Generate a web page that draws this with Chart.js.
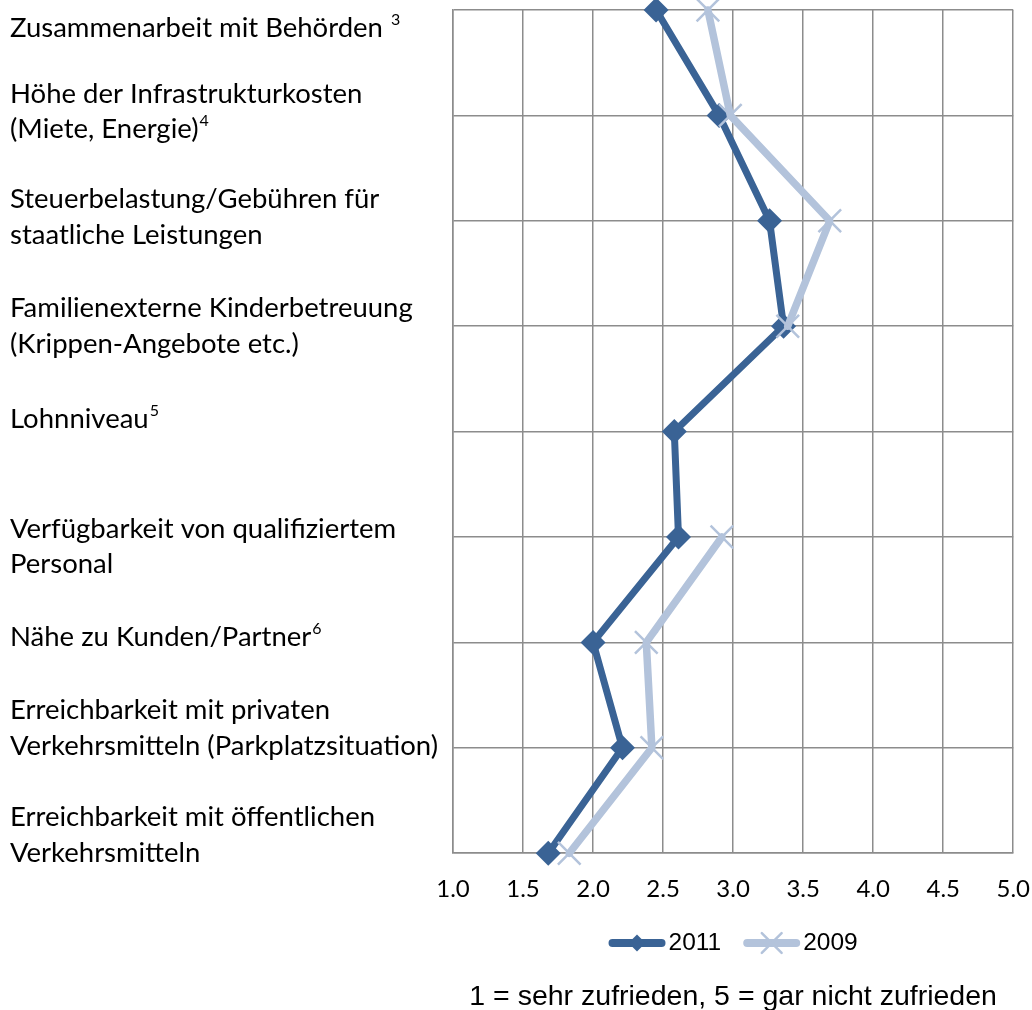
<!DOCTYPE html>
<html>
<head>
<meta charset="utf-8">
<script src="https://cdn.jsdelivr.net/npm/chart.js@4.4.1/dist/chart.umd.min.js"></script>
<style>
  html, body { margin: 0; padding: 0; background: #fff; }
</style>
</head>
<body>
<canvas id="chart" width="1032" height="1010"></canvas>
<script>
// Standortfaktoren, top to bottom
const categories = [
  ['Zusammenarbeit mit Behörden '],
  ['Höhe der Infrastrukturkosten', '(Miete, Energie)'],
  ['Steuerbelastung/Gebühren für', 'staatliche Leistungen'],
  ['Familienexterne Kinderbetreuung', '(Krippen-Angebote etc.)'],
  ['Lohnniveau'],
  ['Verfügbarkeit von qualifiziertem', 'Personal'],
  ['Nähe zu Kunden/Partner'],
  ['Erreichbarkeit mit privaten', 'Verkehrsmitteln (Parkplatzsituation)'],
  ['Erreichbarkeit mit öffentlichen', 'Verkehrsmitteln']
];
const footnotes = ['3', '4', '', '', '5', '', '6', '', ''];

const values2011 = [2.45, 2.90, 3.26, 3.36, 2.58, 2.61, 2.00, 2.21, 1.68];
const values2009 = [2.82, 2.98, 3.69, 3.39, null, 2.92, 2.38, 2.42, 1.83];
const seriesNames = ['2011', '2009'];

const scaleMin = 1;
const scaleMax = 5;
const scaleStep = 0.5;
const footerText = '1 = sehr zufrieden, 5 = gar nicht zufrieden';

const DARK = '#3a6395';
const LIGHT = '#b3c3db';
const GRID = '#8c8c8c';

// category text on the left, with raised footnote numbers
const sideLabels = {
  id: 'sideLabels',
  afterDraw(chart, args, opts) {
    const ctx = chart.ctx;
    const yScale = chart.scales.y;
    ctx.save();
    ctx.fillStyle = '#000';
    ctx.textAlign = 'left';
    ctx.textBaseline = 'alphabetic';
    categories.forEach((lines, i) => {
      const base = yScale.getPixelForTick(i) + opts.firstBaseline[i];
      lines.forEach((line, j) => {
        const ly = base + j * opts.lineHeight;
        ctx.font = opts.font;
        ctx.fillText(line, opts.x, ly);
        if (j === lines.length - 1 && footnotes[i]) {
          const w = ctx.measureText(line).width;
          ctx.font = opts.supFont;
          ctx.fillText(footnotes[i], opts.x + w + 1, ly - opts.supRaise);
        }
      });
    });
    ctx.restore();
  }
};

// legend with a line swatch and marker, plus the scale note below it
const lineLegend = {
  id: 'lineLegend',
  afterDraw(chart, args, opts) {
    const ctx = chart.ctx;
    const area = chart.chartArea;
    const cx = (area.left + area.right) / 2;
    ctx.save();
    ctx.font = opts.font;
    const items = seriesNames.map(name => chart.data.datasets.find(d => d.label === name));
    const widths = items.map(ds => opts.swatch + opts.gap + ctx.measureText(ds.label).width);
    const total = widths.reduce((a, b) => a + b, 0) + opts.spacing * (items.length - 1);
    let x = cx - total / 2;
    items.forEach((ds, i) => {
      ctx.strokeStyle = ds.borderColor;
      ctx.lineWidth = opts.lineWidth;
      ctx.lineCap = 'round';
      ctx.beginPath();
      ctx.moveTo(x + opts.lineWidth / 2, opts.y);
      ctx.lineTo(x + opts.swatch - opts.lineWidth / 2, opts.y);
      ctx.stroke();
      ctx.fillStyle = ds.pointBackgroundColor;
      ctx.strokeStyle = ds.pointBorderColor;
      ctx.lineWidth = ds.pointBorderWidth;
      Chart.helpers.drawPoint(ctx, {
        pointStyle: ds.pointStyle,
        radius: opts.markerRadius[i],
        borderWidth: ds.pointBorderWidth,
        rotation: 0
      }, x + opts.swatch / 2, opts.y);
      ctx.fillStyle = '#000';
      ctx.textAlign = 'left';
      ctx.textBaseline = 'middle';
      ctx.fillText(ds.label, x + opts.swatch + opts.gap, opts.y);
      x += widths[i] + opts.spacing;
    });
    ctx.font = opts.noteFont;
    ctx.textAlign = 'center';
    ctx.fillText(footerText, cx, opts.noteY);
    ctx.restore();
  }
};

new Chart(document.getElementById('chart'), {
  type: 'line',
  data: {
    labels: categories,
    datasets: [
      {
        label: seriesNames[0],
        data: values2011,
        borderColor: DARK,
        backgroundColor: DARK,
        borderWidth: 7,
        pointStyle: 'rectRot',
        pointRadius: 12.5,
        pointBackgroundColor: DARK,
        pointBorderColor: DARK,
        pointBorderWidth: 0,
        order: 1,
        clip: false
      },
      {
        label: seriesNames[1],
        data: values2009,
        borderColor: LIGHT,
        backgroundColor: LIGHT,
        borderWidth: 7.5,
        pointStyle: 'crossRot',
        pointRadius: 16,
        pointBackgroundColor: LIGHT,
        pointBorderColor: LIGHT,
        pointBorderWidth: 2.5,
        order: 0,
        clip: false
      }
    ]
  },
  options: {
    indexAxis: 'y',
    responsive: false,
    animation: false,
    spanGaps: false,
    layout: { autoPadding: false, padding: { left: 453, right: 0, top: 10, bottom: 104 } },
    elements: {
      line: { tension: 0, borderJoinStyle: 'round', borderCapStyle: 'round' },
      point: { hoverRadius: 0 }
    },
    scales: {
      x: {
        type: 'linear',
        position: 'bottom',
        min: scaleMin,
        max: scaleMax,
        ticks: {
          stepSize: scaleStep,
          callback: v => Number(v).toFixed(1),
          color: '#000',
          font: { family: 'Lato', size: 24 },
          padding: 2
        },
        // invisible tick marks keep the labels clear of the axis
        grid: { color: GRID, lineWidth: 1.5, drawTicks: true, tickLength: 20, tickColor: 'rgba(0,0,0,0)' },
        border: { color: GRID, width: 1.5 }
      },
      y: {
        type: 'category',
        offset: false,
        ticks: { display: false },
        grid: { color: GRID, lineWidth: 1.5, drawTicks: false },
        border: { color: GRID, width: 1.5 },
        afterFit(scale) { scale.width = 0; }
      }
    },
    plugins: {
      legend: { display: false },
      tooltip: { enabled: false },
      sideLabels: {
        x: 10,
        font: '27.5px Lato',
        supFont: '16px Lato',
        supRaise: 12,
        lineHeight: 35.5,
        firstBaseline: [27, -12.5, -12.5, -9, -4, 0.5, 4, -28.5, -27]
      },
      lineLegend: {
        y: 943,
        font: '24.5px "Liberation Sans", Arial, sans-serif',
        swatch: 57,
        gap: 3,
        spacing: 22,
        lineWidth: 8,
        markerRadius: [8.5, 14],
        noteFont: '28.5px "Liberation Sans", Arial, sans-serif',
        noteY: 997
      }
    }
  },
  plugins: [sideLabels, lineLegend]
});
</script>
</body>
</html>
